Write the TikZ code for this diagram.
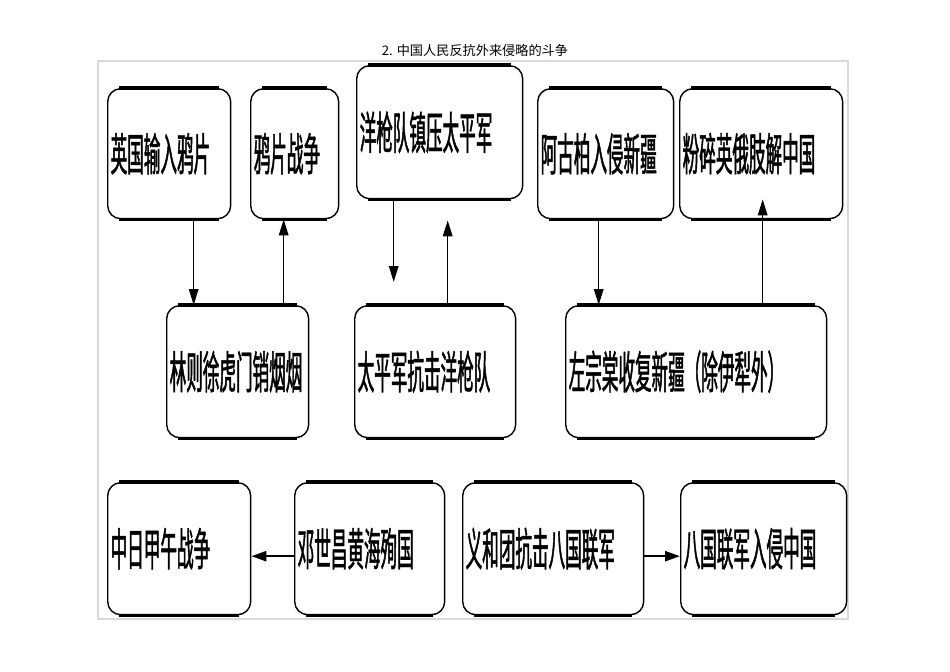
\documentclass[tikz,border=0pt]{standalone}
\usepackage{fontspec}
\newfontfamily\cjk[FakeStretch=0.37,FakeBold=1]{Noto Sans CJK SC}
\newfontfamily\cjktitle{Noto Sans CJK SC}
\usetikzlibrary{positioning,arrows.meta,calc}
\tikzset{
  event/.style={draw=black, line width=0.8pt, rounded corners=0.26cm, anchor=north west,
    align=left, inner xsep=0.06cm, inner ysep=0pt,
    font=\cjk\fontsize{25.5}{28}\selectfont},
  rim/.style={draw=black, line width=1.8pt},
  flow/.style={draw=black, line width=0.9pt, -{Triangle[length=0.32cm,width=0.19cm]}},
  link/.style={draw=black, line width=1.4pt, -{Triangle[length=0.3cm,width=0.2cm]}},
  frame/.style={draw=black!15, line width=0.6pt}
}

\begin{document}
\begin{tikzpicture}[x=0.02cm, y=-0.02cm]
    \useasboundingbox (0,0) rectangle (950,672);
    \node[font=\cjktitle\fontsize{7.5}{9}\selectfont] (title) at (475,50) {2. 中国人民反抗外来侵略的斗争};
    \draw[frame] (98,61) rectangle (848,619);

    % first row
    \node[event, text width=2.34cm, minimum height=2.6cm] (yingguo) at (107,88) {英国输入鸦片};
    \node[event, text width=1.64cm, minimum height=2.6cm] (yapian) at (250,88) {鸦片战争};
    \node[event, text width=3.20cm, minimum height=2.66cm] (yangqiang) at (356,65) {洋枪队镇压太平军};
    \node[event, text width=2.60cm, minimum height=2.6cm] (agubo) at (537,88) {阿古柏入侵新疆};
    \node[event, text width=3.14cm, minimum height=2.6cm] (fensui) at (679,88) {粉碎英俄肢解中国};

    % second row
    \node[event, text width=2.72cm, minimum height=2.64cm] (linzexu) at (166,305) {林则徐虎门销烟烟};
    \node[event, text width=3.10cm, minimum height=2.64cm] (taiping) at (354,305) {太平军抗击洋枪队};
    \node[event, text width=5.10cm, minimum height=2.64cm] (zuozongtang) at (565,305) {左宗棠收复新疆（除伊犁外）};

    % third row
    \node[event, text width=2.74cm, minimum height=2.64cm] (jiawu) at (107,482) {中日甲午战争};
    \node[event, text width=2.88cm, minimum height=2.64cm] (dengshichang) at (294,482) {邓世昌黄海殉国};
    \node[event, text width=3.50cm, minimum height=2.64cm] (yihetuan) at (462,482) {义和团抗击八国联军};
    \node[event, text width=3.20cm, minimum height=2.64cm] (baguo) at (680,482) {八国联军入侵中国};

    \foreach \n in {yingguo,yapian,yangqiang,agubo,fensui,linzexu,taiping,zuozongtang,jiawu,dengshichang,yihetuan,baguo}{
      \draw[rim] ([xshift=0.24cm]\n.north west) -- ([xshift=-0.24cm]\n.north east);
      \draw[rim] ([xshift=0.24cm]\n.south west) -- ([xshift=-0.24cm]\n.south east);
    }

    % connectors
    \coordinate (c1) at ([xshift=0.49cm]yingguo.south);
    \coordinate (c2) at ([xshift=0.92cm]linzexu.north);
    \coordinate (c3) at ([xshift=-0.92cm]yangqiang.south);
    \coordinate (c3end) at ($(c3 |- taiping.north)+(0,0.46cm)$);
    \coordinate (c4) at ([xshift=0.25cm]taiping.north);
    \coordinate (c4end) at ($(c4 |- yangqiang.south)+(0,-0.42cm)$);
    \coordinate (c5) at ([xshift=-0.14cm]agubo.south);
    \coordinate (c6) at ([xshift=1.33cm]zuozongtang.north);
    \coordinate (c6end) at ($(c6 |- fensui.south)+(0,0.4cm)$);

    \draw[flow] (c1) -- (c1 |- linzexu.north);
    \draw[flow] (c2) -- (c2 |- yapian.south);
    \draw[flow] (c3) -- (c3end);
    \draw[flow] (c4) -- (c4end);
    \draw[flow] (c5) -- (c5 |- zuozongtang.north);
    \draw[flow] (c6) -- (c6end);

    \draw[link] ([yshift=-0.15cm]dengshichang.west) -- ([yshift=-0.15cm]jiawu.east);
    \draw[link] ([yshift=-0.15cm]yihetuan.east) -- ([yshift=-0.15cm]baguo.west);
\end{tikzpicture}
\end{document}
